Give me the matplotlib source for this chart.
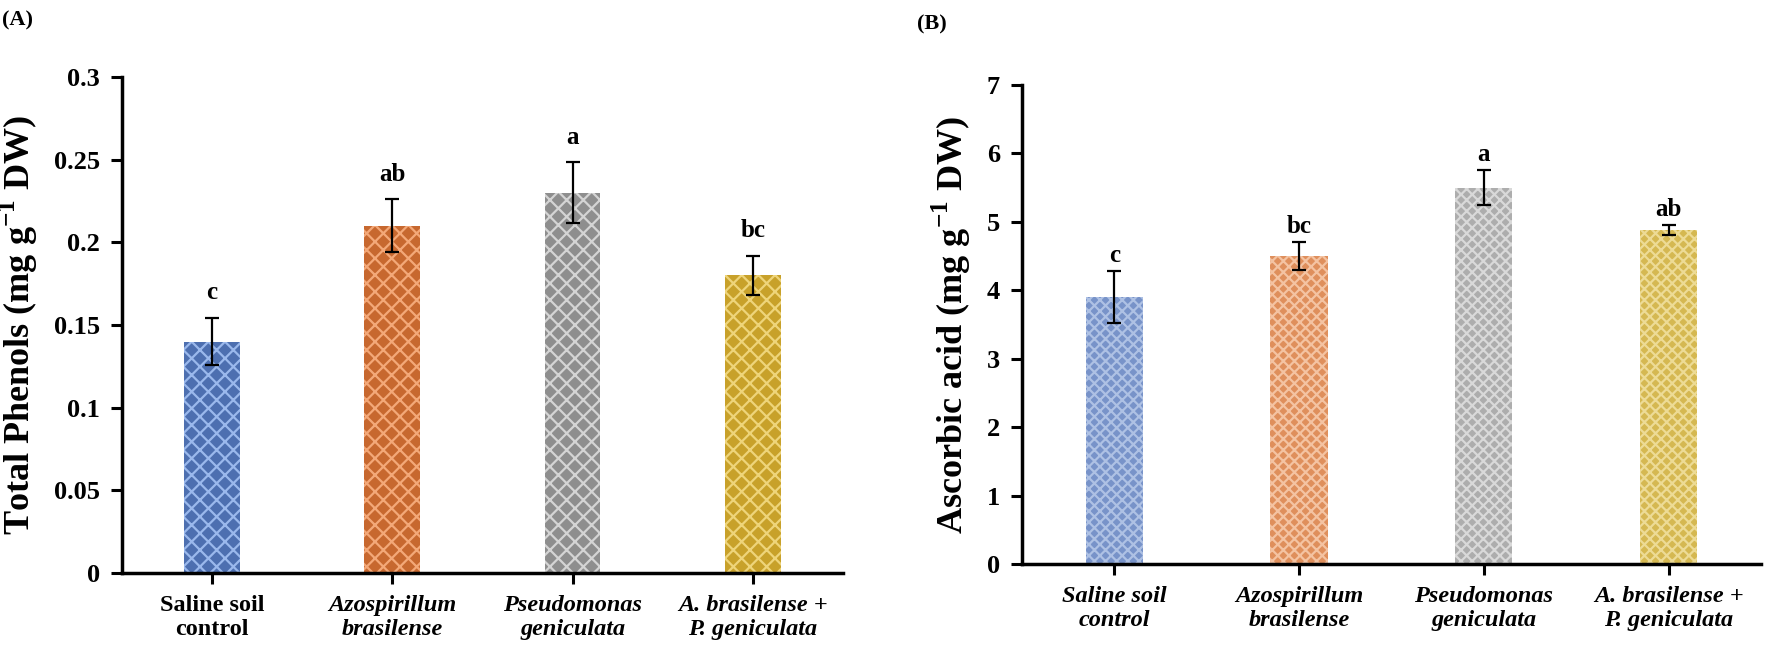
import matplotlib
matplotlib.use("Agg")
import matplotlib.pyplot as plt

plt.rcParams['font.family'] = ['Liberation Serif', 'DejaVu Serif']
plt.rcParams['font.weight'] = 'bold'
plt.rcParams['mathtext.fontset'] = 'custom'
plt.rcParams['mathtext.rm'] = 'Liberation Serif:bold'
plt.rcParams['mathtext.bf'] = 'Liberation Serif:bold'
plt.rcParams['hatch.linewidth'] = 1.6

# data
treatments = ['Saline soil\ncontrol', 'Azospirillum\nbrasilense',
              'Pseudomonas\ngeniculata', 'A. brasilense +\nP. geniculata']
phenols = [0.14, 0.21, 0.23, 0.18]
phenols_err = [0.0145, 0.016, 0.0185, 0.012]
phenols_letters = ['c', 'ab', 'a', 'bc']
ascorbic = [3.9, 4.5, 5.5, 4.88]
ascorbic_err = [0.38, 0.2, 0.25, 0.07]
ascorbic_letters = ['c', 'bc', 'a', 'ab']

colors_a = ['#4d6fb0', '#c7682f', '#8e8e8e', '#c8a12a']
hatch_a = ['#9ab8ec', '#f3a878', '#d4d4d4', '#eed47a']
colors_b = ['#7893c9', '#df8f5c', '#adadad', '#d5b851']
hatch_b = ['#aec1e4', '#f4c3a2', '#d9d9d9', '#eddb95']

fig = plt.figure(figsize=(17.7, 6.59), dpi=100)
ax1 = fig.add_axes([0.0689, 0.1305, 0.4073, 0.7527])
ax2 = fig.add_axes([0.5774, 0.1442, 0.4175, 0.7269])


def draw(ax, vals, errs, letters, ymax, step, fc, hc, hatch, italic_first, ylabel, off):
    x = range(len(vals))
    for i in x:
        ax.bar(i, vals[i], width=0.31, color=fc[i], edgecolor=hc[i],
               hatch=hatch, linewidth=0, zorder=2)
    ax.errorbar(list(x), vals, yerr=errs, fmt='none', ecolor='black',
                elinewidth=1.6, capsize=5, capthick=1.6, zorder=3)
    for i in x:
        ax.text(i, vals[i] + errs[i] + off, letters[i], ha='center', va='bottom',
                fontsize=18, fontweight='bold')
    ax.set_xlim(-0.5, len(vals) - 0.5)
    ax.set_ylim(0, ymax)
    ticks = [k * step for k in range(int(round(ymax / step)) + 1)]
    ax.set_yticks(ticks)
    ax.set_yticklabels(['%g' % t for t in ticks])
    ax.set_xticks(list(x))
    ax.set_xticklabels(treatments)
    for j, lab in enumerate(ax.get_xticklabels()):
        lab.set_fontsize(17.5)
        lab.set_fontweight('bold')
        if j > 0 or italic_first:
            lab.set_style('italic')
    for lab in ax.get_yticklabels():
        lab.set_fontsize(19)
        lab.set_fontweight('bold')
    ax.spines['top'].set_visible(False)
    ax.spines['right'].set_visible(False)
    ax.spines['left'].set_linewidth(2.5)
    ax.spines['bottom'].set_linewidth(2.5)
    ax.tick_params(direction='out', length=8, width=2.2, pad=8)
    ax.set_ylabel(ylabel, fontsize=26, fontweight='bold', labelpad=10)


draw(ax1, phenols, phenols_err, phenols_letters, 0.3, 0.05, colors_a, hatch_a, 'xx',
     False, r'Total Phenols (mg g$^{-1}$ DW)', 0.008)
draw(ax2, ascorbic, ascorbic_err, ascorbic_letters, 7, 1, colors_b, hatch_b, 'xxx',
     True, r'Ascorbic acid (mg g$^{-1}$ DW)', 0.06)

fig.text(0.001, 0.962, '(A)', fontsize=16, fontweight='bold')
fig.text(0.518, 0.955, '(B)', fontsize=16, fontweight='bold')

fig.savefig('out.png', dpi=100)
